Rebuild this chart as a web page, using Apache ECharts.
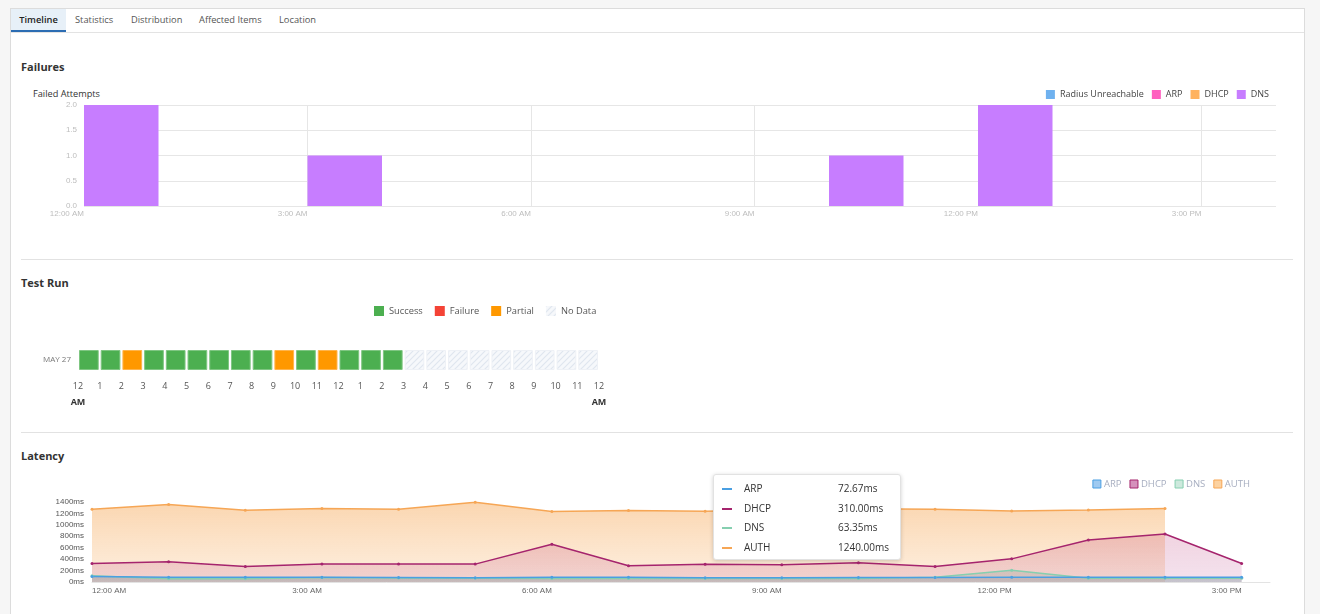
<!DOCTYPE html>
<html>
<head>
<meta charset="utf-8">
<title>Timeline</title>
<script src="https://cdn.jsdelivr.net/npm/echarts@6/dist/echarts.min.js"></script>
<style>
  html, body { margin: 0; padding: 0; }
  body { width: 1320px; height: 614px; overflow: hidden; background: #f6f6f6; position: relative;
         font-family: 'Open Sans', 'Noto Sans', sans-serif; color: #333; }
  .panel { position: absolute; left: 10px; top: 8px; width: 1293px; height: 620px; background: #fff; border: 1px solid #dcdcdc; }
  .tabbar { position: absolute; left: 11px; top: 32px; width: 1293px; height: 1px; background: #e3e3e3; }
  .tab { position: absolute; top: 9px; height: 23px; line-height: 22px; font-size: 9.3px; color: #555; }
  .tab.active { left: 11px; width: 55px; height: 21px; line-height: 22px; text-align: center; background: #e7f0f8;
                border-bottom: 2px solid #2c6db3; color: #222; font-weight: 600; }
  .section { position: absolute; left: 21px; font-size: 11px; font-weight: 700; color: #333; line-height: 16px; }
  .sep { position: absolute; left: 21px; width: 1272px; height: 1px; background: #e2e2e2; }
  .sub { position: absolute; left: 33px; top: 87px; font-size: 9.2px; color: #333; line-height: 14px; }
  .chart { position: absolute; left: 0; width: 1320px; }
</style>
</head>
<body>
<div class="panel"></div>
<div class="tab active">Timeline</div>
<div class="tab" style="left:75px">Statistics</div>
<div class="tab" style="left:131px">Distribution</div>
<div class="tab" style="left:199px">Affected Items</div>
<div class="tab" style="left:279px">Location</div>
<div class="tabbar"></div>

<div class="section" style="top:59px">Failures</div>
<div class="sub">Failed Attempts</div>
<div id="failures" class="chart" style="top:80px;height:160px"></div>
<div class="sep" style="top:259px"></div>

<div class="section" style="top:275px">Test Run</div>
<div id="testrun" class="chart" style="top:290px;height:130px"></div>
<div class="sep" style="top:432px"></div>

<div class="section" style="top:448px">Latency</div>
<div id="latency" class="chart" style="top:465px;height:149px"></div>

<script>
// ---- failures (hourly buckets, 12 AM .. 4 PM)
var failHours = ['0', '1', '2', '3', '4', '5', '6', '7', '8', '9', '10', '11', '12', '13', '14', '15'];
var failTickLabels = ['12:00 AM', '3:00 AM', '6:00 AM', '9:00 AM', '12:00 PM', '3:00 PM'];
var radiusFails = [0, 0, 0, 0, 0, 0, 0, 0, 0, 0, 0, 0, 0, 0, 0, 0];
var arpFails = [0, 0, 0, 0, 0, 0, 0, 0, 0, 0, 0, 0, 0, 0, 0, 0];
var dhcpFails = [0, 0, 0, 0, 0, 0, 0, 0, 0, 0, 0, 0, 0, 0, 0, 0];
var dnsFails = [2, 0, 0, 1, 0, 0, 0, 0, 0, 0, 1, 0, 2, 0, 0, 0];

// ---- test run (one cell per hour of May 27)
var runDay = 'MAY 27';
var runHourLabels = ['12', '1', '2', '3', '4', '5', '6', '7', '8', '9', '10', '11',
                     '12', '1', '2', '3', '4', '5', '6', '7', '8', '9', '10', '11', '12'];
var runStatus = ['Success', 'Success', 'Partial', 'Success', 'Success', 'Success', 'Success', 'Success',
                 'Success', 'Partial', 'Success', 'Partial', 'Success', 'Success', 'Success',
                 'No Data', 'No Data', 'No Data', 'No Data', 'No Data', 'No Data', 'No Data', 'No Data', 'No Data'];

// ---- latency (ms per hour)
var latHours = [0, 1, 2, 3, 4, 5, 6, 7, 8, 9, 10, 11, 12, 13, 14, 15];
var latTickLabels = ['12:00 AM', '3:00 AM', '6:00 AM', '9:00 AM', '12:00 PM', '3:00 PM'];
var arpMs = [95, 85, 85, 85, 80, 75, 85, 85, 72.67, 75, 80, 80, 85, 85, 85, 85];
var dhcpMs = [323, 353, 271, 313, 313, 313, 660, 283, 310, 300, 335, 271, 405, 735, 839, 323];
var dnsMs = [110, 55, 55, 80, 70, 65, 60, 60, 63.35, 60, 60, 85, 205, 65, 65, 65];
var authMs = [1273, 1355, 1256, 1285, 1273, 1395, 1233, 1251, 1240, 1265, 1280, 1273, 1244, 1261, 1285, null];
var hoverIndex = 8;

var tickFont = 'Liberation Sans, Arial, sans-serif';
var uiFont = 'Open Sans, Noto Sans, sans-serif';

function pairs(xs, ys) {
  return xs.map(function (x, i) { return [x, ys[i]]; });
}

// failures chart
var failChart = echarts.init(document.getElementById('failures'));
var failColors = { 'Radius Unreachable': '#6fb1ef', 'ARP': '#ff5fbf', 'DHCP': '#ffb25e', 'DNS': '#c77dff' };
var failSeries = [['Radius Unreachable', radiusFails], ['ARP', arpFails], ['DHCP', dhcpFails], ['DNS', dnsFails]];
failChart.setOption({
  animation: false,
  grid: { left: 84, right: 44, top: 25, bottom: 34 },
  legend: {
    right: 46, top: 5, icon: 'rect', itemWidth: 9, itemHeight: 9, itemGap: 8,
    textStyle: { fontFamily: uiFont, fontSize: 9, color: '#444' },
    data: failSeries.map(function (s) { return s[0]; })
  },
  xAxis: [{
    type: 'value', min: 0, max: failHours.length, interval: 3,
    axisLine: { show: false }, axisTick: { show: false },
    splitLine: { show: true, showMaxLine: false, lineStyle: { color: '#e6e6e6' } },
    axisLabel: {
      align: 'right', margin: 4, fontFamily: tickFont, fontSize: 8, color: '#bdbdbd', showMaxLabel: false,
      formatter: function (v) { return failTickLabels[v / 3] || ''; }
    }
  }, {
    type: 'category', data: failHours, show: false, boundaryGap: true
  }],
  yAxis: {
    type: 'value', min: 0, max: 2, interval: 0.5,
    axisLine: { show: false }, axisTick: { show: false },
    splitLine: { lineStyle: { color: '#e6e6e6' } },
    axisLabel: { margin: 7, fontFamily: tickFont, fontSize: 8, color: '#bdbdbd', formatter: function (v) { return v.toFixed(1); } }
  },
  series: failSeries.map(function (s) {
    return {
      name: s[0], type: 'bar', stack: 'fail', xAxisIndex: 1, barCategoryGap: '0%',
      itemStyle: { color: failColors[s[0]] },
      data: s[1].map(function (v) { return v || null; })
    };
  })
});

// test run chart
function hatch() {
  var c = document.createElement('canvas');
  c.width = 6; c.height = 6;
  var g = c.getContext('2d');
  g.fillStyle = '#f6f8fb';
  g.fillRect(0, 0, 6, 6);
  g.strokeStyle = '#dfe6ef';
  g.lineWidth = 1.2;
  g.beginPath();
  g.moveTo(0, 6); g.lineTo(6, 0);
  g.moveTo(-3, 3); g.lineTo(3, -3);
  g.moveTo(3, 9); g.lineTo(9, 3);
  g.stroke();
  return { image: c, repeat: 'repeat' };
}
var runColors = { 'Success': '#4caf50', 'Failure': '#f44336', 'Partial': '#ff9800', 'No Data': hatch() };
var runStroke = { 'Success': '#7fc682', 'Failure': '#f77a70', 'Partial': '#ffb54d', 'No Data': '#eef1f6' };
var runNames = ['Success', 'Failure', 'Partial', 'No Data'];

var runChart = echarts.init(document.getElementById('testrun'));
runChart.setOption({
  animation: false,
  grid: { left: 78, right: 721, top: 60, bottom: 50 },
  legend: {
    left: 369, top: 11, icon: 'rect', itemWidth: 10, itemHeight: 10, itemGap: 12,
    textStyle: { fontFamily: uiFont, fontSize: 9.3, color: '#555' },
    data: runNames
  },
  xAxis: {
    type: 'value', min: 0, max: runStatus.length, interval: 1,
    axisLine: { show: false }, axisTick: { show: false }, splitLine: { show: false },
    axisLabel: {
      margin: 8, fontFamily: uiFont, fontSize: 9, color: '#555',
      formatter: function (v) {
        var t = runHourLabels[v];
        return (v === 0 || v === runStatus.length) ? '{n|' + t + '}\n{a|AM}' : '{n|' + t + '}';
      },
      rich: {
        n: { fontFamily: uiFont, fontSize: 9, color: '#555', lineHeight: 16 },
        a: { fontFamily: uiFont, fontSize: 9, color: '#333', fontWeight: 'bold', lineHeight: 16 }
      }
    }
  },
  yAxis: {
    type: 'category', data: [runDay],
    axisLine: { show: false }, axisTick: { show: false },
    axisLabel: { margin: 7, fontFamily: uiFont, fontSize: 8, color: '#777' }
  },
  series: runNames.map(function (name) {
    var data = [];
    runStatus.forEach(function (s, i) { if (s === name) data.push([i, 0]); });
    return {
      name: name, type: 'custom', itemStyle: { color: runColors[name] },
      encode: { x: 0, y: 1 },
      renderItem: function (params, api) {
        var p = api.coord([api.value(0), 0]);
        var size = api.size([1, 1]);
        return {
          type: 'rect',
          shape: { x: p[0] + 1.5, y: p[1] - size[1] / 2 + 0.5, width: size[0] - 3, height: size[1] - 1 },
          style: { fill: runColors[name], stroke: runStroke[name], lineWidth: 1 }
        };
      },
      data: data
    };
  })
});

// latency chart
var latChart = echarts.init(document.getElementById('latency'));
var latDefs = [
  { name: 'AUTH', data: authMs, line: '#f6a655', legendFill: '#fcd2a1',
    area: ['rgba(245,160,72,0.62)', 'rgba(249,196,140,0.42)'] },
  { name: 'DHCP', data: dhcpMs, line: '#a5246d', legendFill: '#d590bb',
    area: ['rgba(190,50,110,0.3)', 'rgba(175,50,130,0.2)'] },
  { name: 'DNS', data: dnsMs, line: '#86cfb0', legendFill: '#cde9dd',
    area: ['rgba(120,150,140,0.35)', 'rgba(120,150,140,0.3)'] },
  { name: 'ARP', data: arpMs, line: '#4a9fe2', legendFill: '#9fcaf1',
    area: ['rgba(90,110,140,0.25)', 'rgba(90,110,140,0.2)'] }
];
var legendOrder = ['ARP', 'DHCP', 'DNS', 'AUTH'];
function defOf(n) { return latDefs.filter(function (d) { return d.name === n; })[0]; }

latChart.setOption({
  animation: false,
  grid: { left: 92, right: 50, top: 37, bottom: 32 },
  legend: {
    right: 65, top: 9, itemWidth: 8, itemHeight: 8, itemGap: 8, icon: 'rect',
    textStyle: { fontFamily: uiFont, fontSize: 9.5, color: '#a7aec0', padding: [0, 0, 0, -2] },
    data: legendOrder.map(function (n) {
      var d = defOf(n);
      return { name: n, itemStyle: { color: d.legendFill, borderColor: d.line, borderWidth: 1 } };
    })
  },
  tooltip: {
    trigger: 'item', triggerOn: 'none', alwaysShowContent: true, position: [713, 9],
    transitionDuration: 0, backgroundColor: '#fff', borderColor: '#e2e2e2', borderWidth: 1,
    padding: [4, 11, 2, 8],
    extraCssText: 'box-shadow:0 1px 4px rgba(0,0,0,0.18);border-radius:3px;',
    textStyle: { fontFamily: uiFont, fontSize: 10, color: '#333' },
    formatter: function (p) {
      var i = p.dataIndex;
      return legendOrder.map(function (n) {
        var d = defOf(n);
        return '<div style="height:19.5px;line-height:19.5px;white-space:nowrap">' +
          '<span style="display:inline-block;width:10px;height:2px;background:' + d.line +
          ';vertical-align:middle;margin-right:12px"></span>' +
          '<span style="display:inline-block;width:94px">' + n + '</span>' +
          '<span>' + d.data[i].toFixed(2) + 'ms</span></div>';
      }).join('');
    }
  },
  xAxis: {
    type: 'value', min: 0, max: 15.37, interval: 3,
    axisLine: { show: true, lineStyle: { color: '#e3e3e3' } }, axisTick: { show: false }, splitLine: { show: false },
    axisLabel: {
      align: 'right', alignMinLabel: 'left', margin: 5, fontFamily: tickFont, fontSize: 8, color: '#666',
      showMaxLabel: false,
      formatter: function (v) { return latTickLabels[v / 3] || ''; }
    }
  },
  yAxis: {
    type: 'value', min: 0, max: 1400, interval: 200,
    axisLine: { show: false }, axisTick: { show: false }, splitLine: { show: false },
    axisLabel: { margin: 8, fontFamily: tickFont, fontSize: 8, color: '#555', formatter: function (v) { return v + 'ms'; } }
  },
  series: latDefs.map(function (d) {
    return {
      name: d.name, type: 'line', symbol: 'circle', symbolSize: 3, showSymbol: true,
      lineStyle: { color: d.line, width: 1.5 },
      itemStyle: { color: d.line },
      areaStyle: {
        color: new echarts.graphic.LinearGradient(0, 0, 0, 1, [
          { offset: 0, color: d.area[0] }, { offset: 1, color: d.area[1] }
        ])
      },
      emphasis: { disabled: true },
      data: pairs(latHours, d.data)
    };
  })
});
latChart.dispatchAction({ type: 'showTip', seriesIndex: 0, dataIndex: hoverIndex });
</script>
</body>
</html>
